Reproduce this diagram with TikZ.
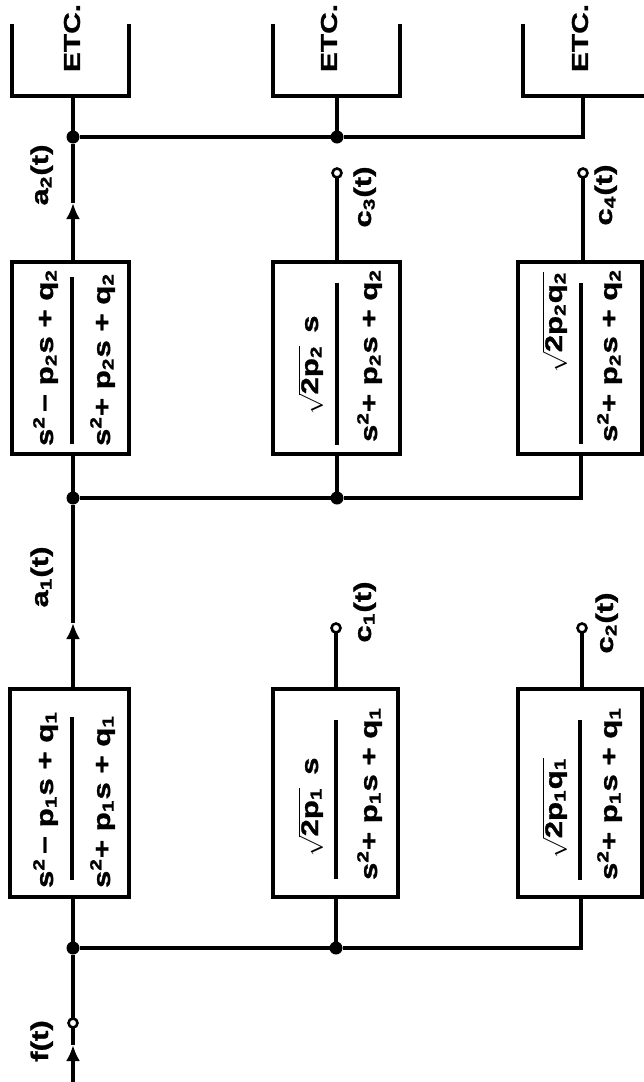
\documentclass[tikz,border=0pt]{standalone}
\usepackage{fontspec}
\setmainfont{Liberation Sans}[FakeStretch=1.3, BoldFeatures={FakeBold=1.2}]
\usetikzlibrary{arrows.meta}
\newcommand{\mysup}[1]{\textsuperscript{#1}}
\newcommand{\mysub}[1]{\textsubscript{#1}}
\newcommand{\myrt}[1]{$\sqrt{\hbox{#1}}$}
\begin{document}
\begin{tikzpicture}[x=0.5pt,y=-0.5pt, line width=1.6pt,
  every node/.style={font=\bfseries\fontsize{12}{14}\selectfont, inner sep=0pt, outer sep=0pt},
  blk/.style={draw, rectangle},
  etcbox/.style={rectangle},
  txt/.style={rotate=90, anchor=base west},
  lbl/.style={rotate=90, anchor=base},
  etctext/.style={rotate=90, anchor=center, font=\bfseries\fontsize{11.5}{13}\selectfont},
  dot/.style={circle, fill, minimum size=6.5pt},
  hole/.style={circle, draw, fill=white, minimum size=4.5pt, line width=1.3pt},
  arr/.style={-{Latex[length=8pt,width=7pt]}}]
\useasboundingbox (0,0) rectangle (643,1082);

% blocks
\node[blk, minimum width=59.5pt, minimum height=104pt] (B1) at (69.5,793) {};
\node[blk, minimum width=58.5pt, minimum height=96pt] (B2) at (70.5,358) {};
\node[blk, minimum width=62.5pt, minimum height=104pt] (B3) at (335.5,793) {};
\node[blk, minimum width=63.5pt, minimum height=96pt] (B4) at (336.5,358) {};
\node[blk, minimum width=62pt, minimum height=104pt] (B5) at (580,793) {};
\node[blk, minimum width=62pt, minimum height=96pt] (B6) at (580,358) {};

% ETC boxes (open at top)
\node[etcbox, minimum width=58.5pt, minimum height=36pt] (E1) at (70.5,60) {};
\node[etcbox, minimum width=63.5pt, minimum height=36pt] (E2) at (336.5,60) {};
\node[etcbox, minimum width=61.5pt, minimum height=36pt] (E3) at (584.5,60) {};
\draw (E1.north west) |- (E1.south east) -- (E1.north east);
\draw (E2.north west) |- (E2.south east) -- (E2.north east);
\draw (E3.north west) |- (E3.south east) -- (E3.north east);
\node[etctext] (T1) at (72,38) {ETC.};
\node[etctext] (T2) at (329,38) {ETC.};
\node[etctext] (T3) at (580,38) {ETC.};

% junctions and terminals
\node[dot] (J1) at (73,948) {};
\node[dot] (J2) at (73,498) {};
\node[dot] (J3) at (73,137) {};
\node[dot] (K1) at (336,948) {};
\node[dot] (K2) at (337,498) {};
\node[dot] (K3) at (337,137) {};
\coordinate (L1) at (581,948);
\coordinate (L2) at (581,498);
\coordinate (L3) at (583,137);
\coordinate (IN) at (73,1082);
\coordinate (TF) at (73,1045);
\coordinate (TA1) at (73,623);
\coordinate (TA2) at (73,203);
\node[hole] (F) at (73,1023) {};
\node[hole] (C1) at (336,628) {};
\node[hole] (C2) at (582,628) {};
\node[hole] (C3) at (337,173) {};
\node[hole] (C4) at (583,173) {};

% main chain
\draw[arr] (IN) -- (TF);
\draw (TF) -- (F);
\draw (F) -- (J1) -- (B1.south -| J1);
\draw[arr] (B1.north -| J1) -- (TA1);
\draw (TA1) -- (J2) -- (B2.south -| J2);
\draw[arr] (B2.north -| J2) -- (TA2);
\draw (TA2) -- (J3) -- (E1.south -| J3);
% branches
\draw (J1) -- (K1) -- (L1) -- (B5.south -| L1);
\draw (K1) -- (B3.south -| K1);
\draw (J2) -- (K2) -- (L2) -- (B6.south -| L2);
\draw (K2) -- (B4.south -| K2);
\draw (J3) -- (K3) -- (L3) -- (E3.south -| L3);
\draw (K3) -- (E2.south -| K3);
% outputs
\draw (B3.north -| C1) -- (C1);
\draw (B5.north -| C2) -- (C2);
\draw (B4.north -| C3) -- (C3);
\draw (B6.north -| C4) -- (C4);

% fraction bars
\draw (72,717) -- (72,880);
\draw (72,277) -- (72,444);
\draw (336,720) -- (336,879);
\draw (337,283) -- (337,445);
\draw (580,720) -- (580,880);
\draw (581,283) -- (581,444);

% block texts
\node[txt] (N1) at (53,888) {s\mysup{2}\,− p\mysub{1}s + q\mysub{1}};
\node[txt] (D1) at (110,888) {s\mysup{2}+ p\mysub{1}s + q\mysub{1}};
\node[txt] (N2) at (53,446) {s\mysup{2}\,− p\mysub{2}s + q\mysub{2}};
\node[txt] (D2) at (110,446) {s\mysup{2}+ p\mysub{2}s + q\mysub{2}};
\node[lbl] (N3) at (318,807) {\myrt{2p\mysub{1}}\, s};
\node[txt] (D3) at (377,880) {s\mysup{2}+ p\mysub{1}s + q\mysub{1}};
\node[lbl] (N4) at (318,365) {\myrt{2p\mysub{2}}\, s};
\node[txt] (D4) at (377,442) {s\mysup{2}+ p\mysub{2}s + q\mysub{2}};
\node[lbl] (N5) at (562,808) {\myrt{2p\mysub{1}q\mysub{1}}};
\node[txt] (D5) at (617,880) {s\mysup{2}+ p\mysub{1}s + q\mysub{1}};
\node[lbl] (N6) at (562,322) {\myrt{2p\mysub{2}q\mysub{2}}};
\node[txt] (D6) at (617,442) {s\mysup{2}+ p\mysub{2}s + q\mysub{2}};

% signal labels
\node[lbl] (LF) at (48,1041) {f(t)};
\node[lbl] (LA1) at (48,577) {a\mysub{1}(t)};
\node[lbl] (LA2) at (48,175) {a\mysub{2}(t)};
\node[lbl] (LC1) at (371,612) {c\mysub{1}(t)};
\node[lbl] (LC3) at (371,197) {c\mysub{3}(t)};
\node[lbl] (LC2) at (613,623) {c\mysub{2}(t)};
\node[lbl] (LC4) at (612,195) {c\mysub{4}(t)};
\end{tikzpicture}
\end{document}
